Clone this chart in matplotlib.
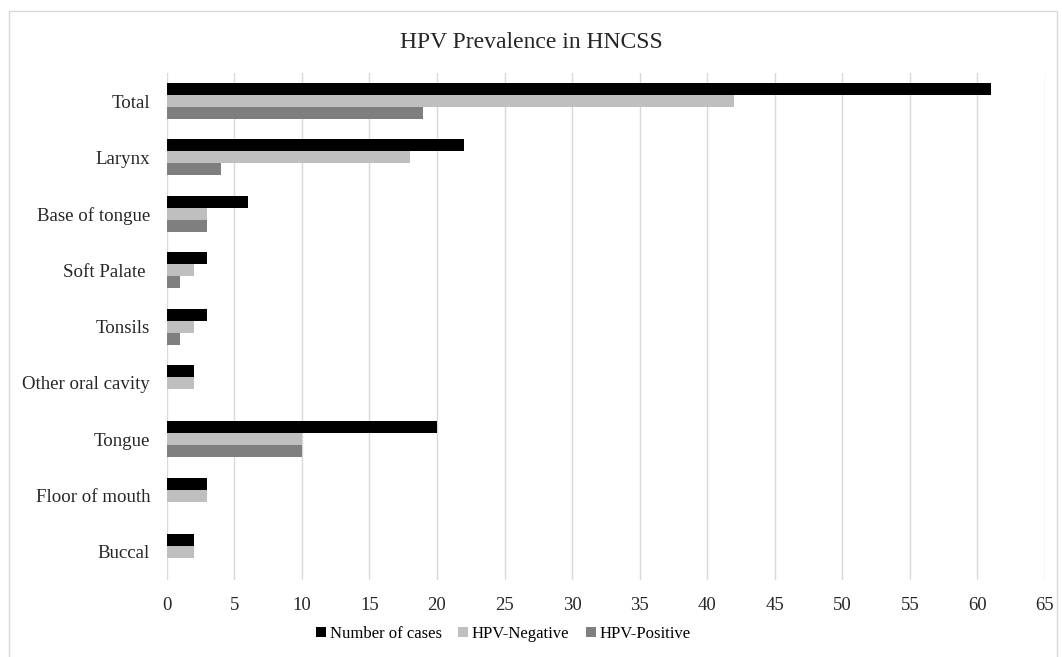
#!/usr/bin/env python3

import numpy as np
import matplotlib
matplotlib.use("Agg")
import matplotlib.pyplot as plt
from matplotlib.patches import Rectangle

# categories listed bottom to top
sites = ["Buccal", "Floor of mouth", "Tongue", "Other oral cavity", "Tonsils",
         "Soft Palate ", "Base of tongue", "Larynx", "Total"]
num_cases = [2, 3, 20, 2, 3, 3, 6, 22, 61]
hpv_negative = [2, 3, 10, 2, 2, 2, 3, 18, 42]
hpv_positive = [0, 0, 10, 0, 1, 1, 3, 4, 19]
x_ticks = list(range(0, 70, 5))

plt.rcParams['font.family'] = ['Liberation Serif', 'DejaVu Serif']

fig = plt.figure(figsize=(10.62, 6.57), dpi=100)
ax = fig.add_axes([0.157, 0.117, 0.827, 0.772])

y = np.arange(len(sites))
h = 0.213
ax.barh(y + h, num_cases, height=h, color='black', label='Number of cases', zorder=3)
ax.barh(y, hpv_negative, height=h, color='#bfbfbf', label='HPV-Negative', zorder=3)
ax.barh(y - h, hpv_positive, height=h, color='#7f7f7f', label='HPV-Positive', zorder=3)

ax.set_xlim(0, 65)
ax.set_ylim(-0.5, len(sites) - 0.5)
ax.set_xticks(x_ticks)
ax.set_yticks(y)
ax.set_yticklabels(sites)
ax.tick_params(length=0, colors='#262626')
ax.tick_params(axis='x', labelsize=13.5, pad=12)
ax.tick_params(axis='y', labelsize=13.6, pad=12)
ax.grid(axis='x', color='#d9d9d9', linewidth=1, zorder=0)
for s in ax.spines.values():
    s.set_visible(False)

fig.text(0.5, 0.936, "HPV Prevalence in HNCSS", ha='center', va='center',
         fontsize=17, color='#262626')

fig.legend(loc='center', bbox_to_anchor=(0.474, 0.035), ncol=3, frameon=False,
           fontsize=12, handlelength=0.6, handleheight=0.6, handletextpad=0.2,
           columnspacing=1.0)

# light border around the chart
fig.patches.append(Rectangle((0.0085, -0.01), 0.987, 0.993, transform=fig.transFigure,
                             fill=False, edgecolor='#d9d9d9', linewidth=1))

fig.savefig("out.png", dpi=100)
